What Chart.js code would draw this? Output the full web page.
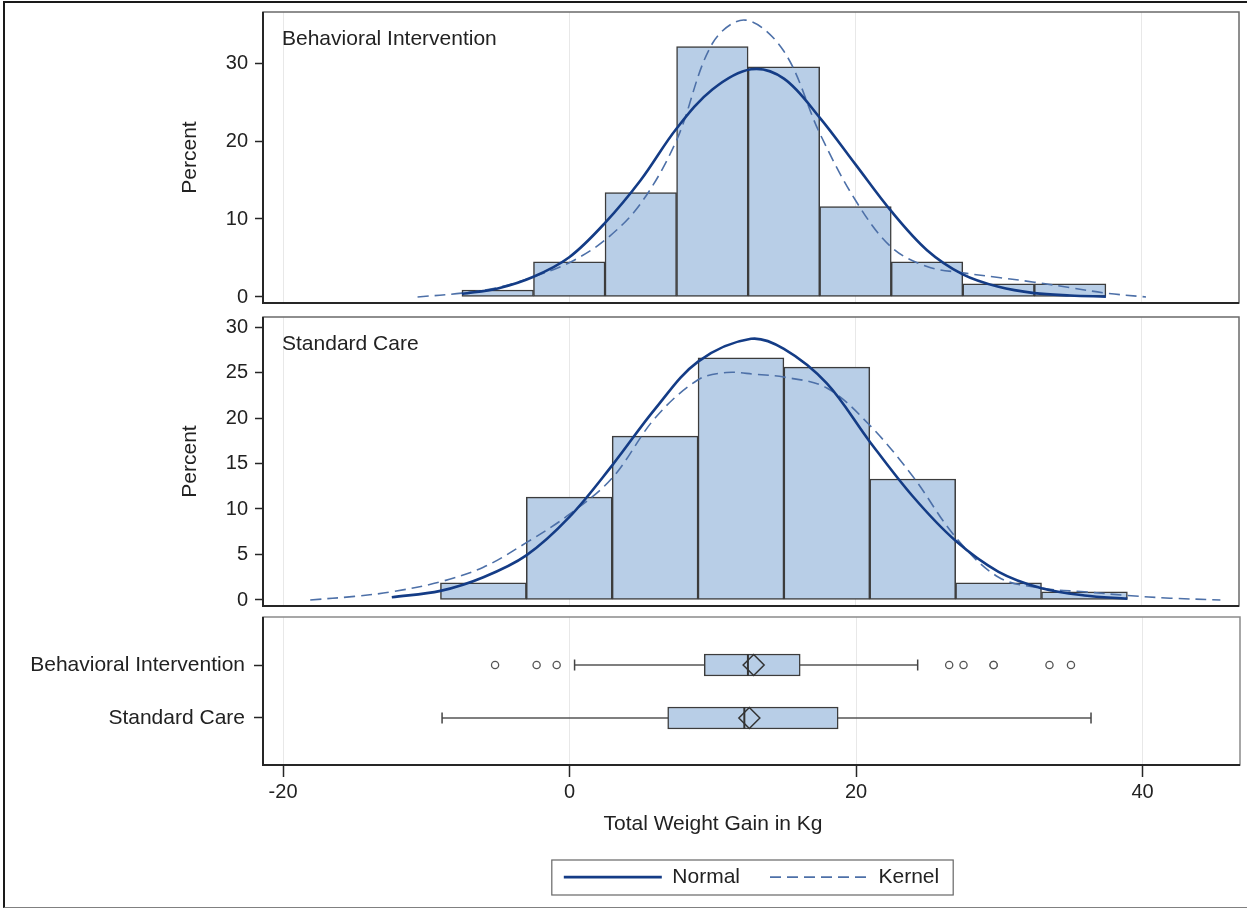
<!DOCTYPE html>
<html>
<head>
<meta charset="utf-8">
<script src="https://cdn.jsdelivr.net/npm/chart.js@4.4.1/dist/chart.umd.min.js"></script>
<style>
html,body{margin:0;padding:0;background:#fff;}
#wrap{position:relative;width:1247px;height:909px;overflow:hidden;background:#fff;}
#frame{position:absolute;left:3px;top:1px;width:1270px;height:907px;border-top:2px solid #1a1a1a;border-left:2px solid #1a1a1a;border-bottom:1px solid #808080;box-sizing:border-box;}
canvas{position:absolute;left:0;top:0;}
</style>
</head>
<body>
<div id="wrap">
  <div id="frame"></div>
  <canvas id="c1" width="1247" height="909"></canvas>
  <canvas id="c2" width="1247" height="909"></canvas>
  <canvas id="c3" width="1253" height="909"></canvas>
</div>
<script>
// ---------------- data ----------------
const xTickValues = [-20, 0, 20, 40];
const panelLabels = ['Behavioral Intervention', 'Standard Care'];
const percentTicksBI = [0, 10, 20, 30];
const percentTicksSC = [0, 5, 10, 15, 20, 25, 30];

// Behavioral Intervention histogram (bin midpoints, percent)
const biBinMid = [-5, 0, 5, 10, 15, 20, 25, 30, 35];
const biPercent = [0.9, 4.5, 13.4, 32.1, 29.5, 11.6, 4.5, 1.7, 1.7];
// Behavioral Intervention fitted curves
const biNormalX = [-7.5, -5, -2.5, 0, 2.5, 5, 7.5, 10, 12.7, 15, 17.5, 20, 22.5, 25, 27.5, 30, 32.5, 35, 37.5];
const biNormalY = [0.4, 1.1, 2.6, 5.1, 9.5, 15.0, 21.6, 26.6, 29.2, 28.0, 23.0, 17.0, 11.0, 6.0, 2.9, 1.3, 0.5, 0.2, 0.05];
const biKernelX = [-10.6, -7.5, -5, -2.5, 0, 2.5, 5, 7.5, 10, 12.3, 15, 17.5, 20, 22.5, 25, 27.5, 30, 32.5, 35, 37.5, 40.3];
const biKernelY = [0, 0.5, 1.2, 2.6, 4.4, 7.3, 12.0, 20.1, 32.5, 35.5, 31.5, 21.0, 12.4, 6.4, 3.9, 3.1, 2.5, 1.9, 1.2, 0.5, 0];

// Standard Care histogram
const scBinMid = [-6, 0, 6, 12, 18, 24, 30, 36];
const scPercent = [1.9, 11.3, 18.0, 26.6, 25.6, 13.3, 1.9, 0.9];
const scNormalX = [-12.4, -9, -6, -3, 0, 3, 6, 9, 12.7, 15, 18, 21, 24, 27, 30, 33, 36, 39];
const scNormalY = [0.3, 1.0, 2.5, 4.9, 9.1, 14.8, 21.0, 26.2, 28.7, 27.6, 23.8, 17.4, 11.4, 6.5, 3.1, 1.3, 0.5, 0.15];
const scKernelX = [-18.1, -15, -12.4, -9, -6, -3, 0, 3, 6, 9, 11, 13, 15, 18, 21, 24, 27, 30, 33, 36, 39, 42, 45.5];
const scKernelY = [0, 0.4, 0.9, 2.0, 3.6, 6.3, 9.4, 13.4, 20.0, 24.2, 25.0, 24.8, 24.5, 23.3, 19.2, 13.6, 6.9, 2.5, 1.3, 0.9, 0.5, 0.2, 0];

// Box plots
const boxGroups = ['Behavioral Intervention', 'Standard Care'];
const boxWhiskerLow = [0.35, -8.9];
const boxQ1 = [9.4, 6.85];
const boxMedian = [12.45, 12.2];
const boxMean = [12.85, 12.55];
const boxQ3 = [16.1, 18.75];
const boxWhiskerHigh = [24.3, 36.4];
const biOutliers = [-5.2, -2.3, -0.9, 26.5, 27.5, 29.6, 29.6, 33.5, 35.0];
const scOutliers = [];

const legendLabels = ['Normal', 'Kernel'];

// ---------------- styles ----------------
const FONT = "'Liberation Sans', Arial, Helvetica, sans-serif";
const TXT = '#222222';
const BAR_FILL = '#b8cee7';
const BAR_EDGE = '#3c3c3c';
const NORMAL_COLOR = '#143c86';
const KERNEL_COLOR = '#4d70a8';
const KERNEL_DASH = [11, 6];
const GRID = '#e8e8e8';
const X_MIN = -21.4, X_MAX = 46.8;
const CURVE_TENSION = 0.35;

Chart.defaults.font.family = FONT;
Chart.defaults.color = TXT;

const framePlugin = {
  id: 'panelFrame',
  afterDraw(chart, args, opts) {
    const {ctx, chartArea: {left, top, right, bottom}} = chart;
    ctx.save();
    ctx.strokeStyle = opts.color || '#6a6a6a';
    ctx.lineWidth = 1.5;
    ctx.strokeRect(left, top, right - left, bottom - top);
    ctx.strokeStyle = '#262626';
    ctx.lineWidth = 2;
    ctx.beginPath();
    ctx.moveTo(left, top); ctx.lineTo(left, bottom); ctx.lineTo(right, bottom);
    ctx.stroke();
    ctx.restore();
  }
};

const panelLabelPlugin = {
  id: 'panelLabel',
  afterDraw(chart, args, opts) {
    if (!opts || !opts.text) return;
    const {ctx, chartArea} = chart;
    ctx.save();
    ctx.font = '21px ' + FONT;
    ctx.fillStyle = TXT;
    ctx.textAlign = 'left';
    ctx.textBaseline = 'alphabetic';
    ctx.fillText(opts.text, chartArea.left + 19, chartArea.top + 32.5);
    ctx.restore();
  }
};

const legendBoxPlugin = {
  id: 'legendBox',
  afterDraw(chart) {
    const lg = chart.legend;
    if (!lg || !lg.legendHitBoxes || !lg.legendHitBoxes.length) return;
    const hb = lg.legendHitBoxes;
    const first = hb[0], last = hb[hb.length - 1];
    const x0 = first.left - 12, x1 = last.left + last.width + 14;
    const y0 = first.top - 6.6, y1 = first.top + first.height + 7.4;
    const ctx = chart.ctx;
    ctx.save();
    ctx.strokeStyle = '#666';
    ctx.lineWidth = 1.2;
    ctx.strokeRect(x0, y0, x1 - x0, y1 - y0);
    ctx.restore();
  }
};

// lets the long category labels of the box panel extend to the left of the axis box
const unclipLabelsPlugin = {
  id: 'unclipLabels',
  afterLayout(chart) { chart.scales.y.left = 0; }
};

function xScaleHidden() {
  return {
    type: 'linear', min: X_MIN, max: X_MAX, offset: false,
    afterBuildTicks: s => { s.ticks = xTickValues.map(v => ({value: v})); },
    afterFit: s => { s.height = 0; s.paddingLeft = 0; s.paddingRight = 0; },
    ticks: {display: false},
    border: {display: false},
    grid: {color: GRID, lineWidth: 1, drawTicks: false, offset: false}
  };
}

function percentScale(min, max, tickValues) {
  return {
    type: 'linear', min: min, max: max, position: 'left', offset: false,
    afterBuildTicks: s => { s.ticks = tickValues.map(v => ({value: v})); },
    afterFit: s => { s.width = 85; s.paddingTop = 0; s.paddingBottom = 0; },
    title: {display: true, text: 'Percent', font: {size: 21}, color: TXT, padding: 0},
    ticks: {font: {size: 20}, color: TXT, padding: 7},
    grid: {drawOnChartArea: false, drawTicks: true, tickLength: 8, tickColor: '#262626', tickWidth: 1.5, offset: false},
    border: {display: false}
  };
}

function histConfig(mids, pct, nx, ny, kx, ky, yMin, yMax, yTicks, label, padTop, padBottom) {
  return {
    type: 'scatter',
    data: {
      datasets: [
        {
          type: 'bar',
          data: mids.map((m, i) => ({x: m, y: pct[i]})),
          backgroundColor: BAR_FILL, borderColor: BAR_EDGE, borderWidth: 1.5,
          borderSkipped: false, barPercentage: 1, categoryPercentage: 1, order: 3
        },
        {
          type: 'line',
          data: kx.map((x, i) => ({x: x, y: ky[i]})),
          borderColor: KERNEL_COLOR, borderWidth: 1.6, borderDash: KERNEL_DASH,
          pointRadius: 0, fill: false, tension: CURVE_TENSION, order: 2
        },
        {
          type: 'line',
          data: nx.map((x, i) => ({x: x, y: ny[i]})),
          borderColor: NORMAL_COLOR, borderWidth: 2.6,
          pointRadius: 0, fill: false, tension: CURVE_TENSION, order: 1
        }
      ]
    },
    options: {
      responsive: false, animation: false, events: [],
      layout: {padding: {left: 178, top: padTop, right: 8, bottom: padBottom}},
      scales: {x: xScaleHidden(), y: percentScale(yMin, yMax, yTicks)},
      plugins: {
        legend: {display: false}, tooltip: {enabled: false}, title: {display: false},
        panelLabel: {text: label}, panelFrame: {}
      }
    },
    plugins: [framePlugin, panelLabelPlugin]
  };
}

new Chart(document.getElementById('c1'),
  histConfig(biBinMid, biPercent, biNormalX, biNormalY, biKernelX, biKernelY,
    -0.77, 36.54, percentTicksBI, panelLabels[0], 12, 606));

new Chart(document.getElementById('c2'),
  histConfig(scBinMid, scPercent, scNormalX, scNormalY, scKernelX, scKernelY,
    -0.66, 31.1, percentTicksSC, panelLabels[1], 317, 303));

// ---------------- box plot panel ----------------
const boxRows = boxGroups.map((g, i) => i + 1);
const whiskerSets = boxGroups.map((g, i) => ({
  type: 'line',
  data: [{x: boxWhiskerLow[i], y: boxRows[i]}, {x: boxWhiskerHigh[i], y: boxRows[i]}],
  borderColor: '#555', borderWidth: 1.5, pointRadius: 0, order: 4
}));
const boxDatasets = whiskerSets.concat([
  {
    type: 'bar', indexAxis: 'y',
    data: boxGroups.map((g, i) => ({x: [boxQ1[i], boxQ3[i]], y: boxRows[i]})),
    backgroundColor: BAR_FILL, borderColor: BAR_EDGE, borderWidth: 1.5,
    borderSkipped: false, barThickness: 22, order: 3
  },
  {
    type: 'scatter',
    data: boxGroups.flatMap((g, i) => [{x: boxWhiskerLow[i], y: boxRows[i]}, {x: boxWhiskerHigh[i], y: boxRows[i]}]),
    pointStyle: 'line', pointRotation: 90, pointRadius: 5.5,
    pointBorderColor: '#444', pointBorderWidth: 1.5, order: 2
  },
  {
    type: 'scatter',
    data: boxGroups.map((g, i) => ({x: boxMedian[i], y: boxRows[i]})),
    pointStyle: 'line', pointRotation: 90, pointRadius: 11,
    pointBorderColor: '#333', pointBorderWidth: 2, order: 1
  },
  {
    type: 'scatter',
    data: boxGroups.map((g, i) => ({x: boxMean[i], y: boxRows[i]})),
    pointStyle: 'rectRot', pointRadius: 10.5,
    pointBackgroundColor: 'rgba(0,0,0,0)', pointBorderColor: '#333', pointBorderWidth: 1.5, order: 0
  },
  {
    type: 'scatter',
    data: biOutliers.map(v => ({x: v, y: boxRows[0]})).concat(scOutliers.map(v => ({x: v, y: boxRows[1]}))),
    pointStyle: 'circle', pointRadius: 3.6,
    pointBackgroundColor: '#fff', pointBorderColor: '#555', pointBorderWidth: 1.3, order: 0
  }
]);

const legendStyles = [
  {color: NORMAL_COLOR, width: 2.6, dash: []},
  {color: KERNEL_COLOR, width: 1.8, dash: KERNEL_DASH}
];

new Chart(document.getElementById('c3'), {
  type: 'scatter',
  data: {datasets: boxDatasets},
  options: {
    responsive: false, animation: false, events: [],
    layout: {padding: {left: 181, top: 617, right: 8, bottom: 11.4}},
    scales: {
      x: {
        type: 'linear', min: X_MIN, max: X_MAX, offset: false,
        afterBuildTicks: s => { s.ticks = xTickValues.map(v => ({value: v})); },
        afterFit: s => { s.height = 39; s.paddingLeft = 0; s.paddingRight = 0; },
        ticks: {font: {size: 20}, color: TXT, padding: 3, maxRotation: 0},
        border: {display: false},
        grid: {color: GRID, lineWidth: 1, drawTicks: true, tickLength: 12, tickColor: '#262626', tickWidth: 1.5, offset: false}
      },
      y: {
        type: 'linear', min: 0.094, max: 2.887, reverse: true, position: 'left', offset: false,
        afterBuildTicks: s => { s.ticks = boxRows.map(v => ({value: v})); },
        afterFit: s => { s.width = 82; s.paddingTop = 0; s.paddingBottom = 0; },
        ticks: {font: {size: 21}, color: TXT, padding: 9, callback: v => boxGroups[Math.round(v) - 1]},
        grid: {drawOnChartArea: false, drawTicks: true, tickLength: 9, tickColor: '#262626', tickWidth: 1.5, offset: false},
        border: {display: false}
      }
    },
    plugins: {
      tooltip: {enabled: false},
      title: {
        display: true, text: 'Total Weight Gain in Kg', position: 'bottom', fullSize: true, weight: 500,
        padding: {top: 7.4, bottom: 0}, font: {size: 21, weight: 'normal', lineHeight: 1.2}, color: TXT
      },
      legend: {
        display: true, position: 'bottom', fullSize: false,
        labels: {
          usePointStyle: true, pointStyleWidth: 98, padding: 30,
          font: {size: 21}, color: TXT,
          generateLabels: () => legendLabels.map((t, i) => ({
            text: t, strokeStyle: legendStyles[i].color, fillStyle: 'rgba(0,0,0,0)',
            lineWidth: legendStyles[i].width, lineDash: legendStyles[i].dash,
            pointStyle: 'line', hidden: false, fontColor: TXT
          }))
        }
      },
      panelFrame: {color: '#8a8a8a'}
    }
  },
  plugins: [unclipLabelsPlugin, framePlugin, legendBoxPlugin]
});
</script>
</body>
</html>
